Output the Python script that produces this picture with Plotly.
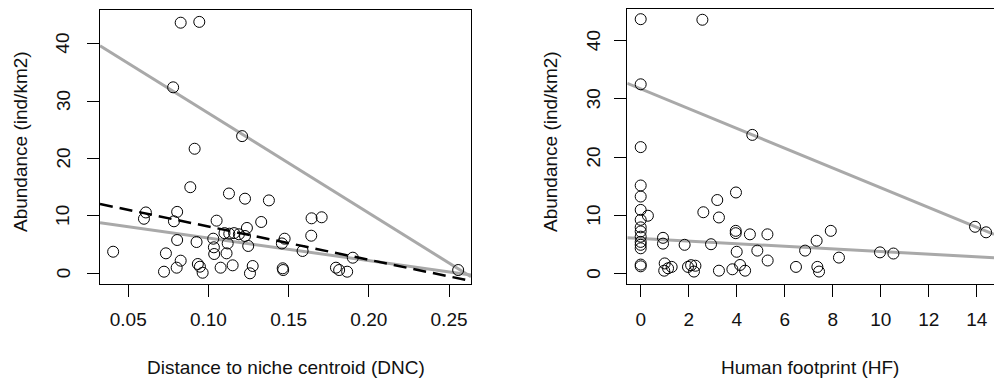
import plotly.graph_objects as go

# ---------------- data ----------------
dnc = [0.0827, 0.0943, 0.078, 0.121, 0.0914, 0.0887, 0.1128, 0.1228, 0.1377, 0.061,
       0.0598, 0.0805, 0.0785, 0.1051, 0.1329, 0.124, 0.1643, 0.1706, 0.1641, 0.1475,
       0.1458, 0.0406, 0.0805, 0.0926, 0.103, 0.1034, 0.1036, 0.110, 0.113, 0.116,
       0.119, 0.1113, 0.1248, 0.0735, 0.1587, 0.19, 0.0723, 0.0802, 0.0827, 0.0934,
       0.0947, 0.0964, 0.1076, 0.1151, 0.1259, 0.1276, 0.1463, 0.1466, 0.1795, 0.1815,
       0.1865, 0.2557, 0.112, 0.1228]
abund_dnc = [43.66, 43.8, 32.4, 23.9, 21.7, 15.0, 13.9, 13.0, 12.7, 10.6,
             9.5, 10.7, 9.06, 9.17, 8.94, 7.9, 9.58, 9.76, 6.55, 6.03,
             5.2, 3.76, 5.8, 5.45, 6.03, 4.53, 3.36, 7.0, 6.9, 7.0,
             6.8, 3.48, 4.76, 3.48, 3.89, 2.72, 0.28, 0.98, 2.2, 1.62,
             1.15, 0.1, 0.98, 1.39, 0.0, 1.27, 0.87, 0.57, 0.98, 0.57,
             0.28, 0.57, 5.2, 6.5]

hf = [0, 0, 0, 0, 0, 0, 0, 0, 0, 0, 0, 0, 0, 0, 0, 0.3,
      2.57, 4.65, 3.97, 3.19, 2.61, 3.26, 0.93, 0.93, 1.83, 2.93, 3.96, 3.96, 4.55, 5.28,
      4.0, 4.86, 5.29, 1.0, 1.14, 1.29, 0.98, 1.97, 2.1, 2.22, 2.28, 3.26, 3.82, 4.14,
      4.35, 6.47, 6.85, 7.33, 7.92, 7.36, 7.43, 8.26, 9.97, 10.53, 13.93, 14.39]
abund_hf = [43.7, 32.5, 21.7, 15.1, 13.2, 10.9, 9.2, 7.9, 7.2, 6.3, 5.4, 4.9, 4.3, 1.5, 1.2, 9.9,
            43.6, 23.8, 13.9, 12.6, 10.5, 9.6, 6.1, 5.1, 4.9, 5.0, 7.3, 6.9, 6.7, 6.7,
            3.7, 3.9, 2.2, 1.7, 0.86, 1.1, 0.45, 1.1, 1.4, 0.3, 1.3, 0.45, 0.69, 1.43,
            0.45, 1.1, 3.9, 5.6, 7.3, 1.1, 0.3, 2.7, 3.6, 3.4, 8.0, 7.05]

# fitted lines (end points at the plot edges)
dnc_line_x = [0.0324, 0.2637]
dnc_upper_y = [39.65, -0.59]
dnc_lower_y = [8.82, -0.3]
dnc_dash_y = [12.07, -1.34]

hf_line_x = [-0.558, 14.72]
hf_upper_y = [32.67, 6.7]
hf_lower_y = [6.12, 2.68]

dnc_ticks = [0.05, 0.10, 0.15, 0.20, 0.25]
hf_ticks = [0, 2, 4, 6, 8, 10, 12, 14]
y_ticks = [0, 10, 20, 30, 40]

# ---------------- figure ----------------
W, H = 994, 381
FONT = "Liberation Sans, Arial, sans-serif"
FS = 19
TXT = "#111"
GREY = "#a9a9a9"

fig = go.Figure()

marker = dict(symbol="circle-open", size=11, color="black", line=dict(width=1, color="black"))

# left panel
fig.add_trace(go.Scatter(x=dnc_line_x, y=dnc_upper_y, mode="lines",
                         line=dict(color=GREY, width=3), xaxis="x", yaxis="y"))
fig.add_trace(go.Scatter(x=dnc_line_x, y=dnc_lower_y, mode="lines",
                         line=dict(color=GREY, width=3), xaxis="x", yaxis="y"))
fig.add_trace(go.Scatter(x=dnc_line_x, y=dnc_dash_y, mode="lines",
                         line=dict(color="black", width=2.5, dash="13px,7px"), xaxis="x", yaxis="y"))
fig.add_trace(go.Scatter(x=dnc, y=abund_dnc, mode="markers", marker=marker, xaxis="x", yaxis="y"))

# right panel
fig.add_trace(go.Scatter(x=hf_line_x, y=hf_upper_y, mode="lines",
                         line=dict(color=GREY, width=3), xaxis="x2", yaxis="y2"))
fig.add_trace(go.Scatter(x=hf_line_x, y=hf_lower_y, mode="lines",
                         line=dict(color=GREY, width=3), xaxis="x2", yaxis="y2"))
fig.add_trace(go.Scatter(x=hf, y=abund_hf, mode="markers", marker=marker, xaxis="x2", yaxis="y2"))

def px_x(p):
    return p / W

def px_y(p):
    return 1 - p / H

axis_common = dict(showgrid=False, zeroline=False, showline=True, linecolor="black", linewidth=1,
                   ticks="outside", ticklen=12, tickwidth=1, tickcolor="black",
                   tickfont=dict(family=FONT, size=FS, color=TXT))

annotations = []
# rotated y tick labels (R style), placed on the y axes' own scale
for yref, xpix in (("y", 63), ("y2", 593.5)):
    for v in y_ticks:
        annotations.append(dict(text=str(v), x=px_x(xpix), y=v, xref="paper", yref=yref,
                                textangle=-90, showarrow=False, xanchor="center", yanchor="middle",
                                font=dict(family=FONT, size=FS, color=TXT)))

annotations += [
    dict(text="Abundance (ind/km2)", x=px_x(20), y=px_y(142), xref="paper", yref="paper",
         textangle=-90, showarrow=False, xanchor="center", yanchor="middle",
         font=dict(family=FONT, size=FS, color=TXT)),
    dict(text="Abundance (ind/km2)", x=px_x(550), y=px_y(142), xref="paper", yref="paper",
         textangle=-90, showarrow=False, xanchor="center", yanchor="middle",
         font=dict(family=FONT, size=FS, color=TXT)),
    dict(text="Distance to niche centroid (DNC)", x=px_x(285.5), y=px_y(367), xref="paper", yref="paper",
         showarrow=False, xanchor="center", yanchor="middle",
         font=dict(family=FONT, size=FS, color=TXT)),
    dict(text="Human footprint (HF)", x=px_x(810), y=px_y(367), xref="paper", yref="paper",
         showarrow=False, xanchor="center", yanchor="middle",
         font=dict(family=FONT, size=FS, color=TXT)),
]

fig.update_layout(
    width=W, height=H,
    margin=dict(l=0, r=0, t=0, b=0),
    paper_bgcolor="white", plot_bgcolor="white",
    showlegend=False,
    font=dict(family=FONT, size=FS, color=TXT),
    xaxis=dict(domain=[px_x(100), px_x(471)], range=[0.0324, 0.2637], anchor="y",
               tickvals=dnc_ticks, ticktext=[f"{v:.2f}" for v in dnc_ticks], mirror=True,
               ticklabelstandoff=6, **axis_common),
    yaxis=dict(domain=[px_y(284), px_y(10)], range=[-1.864, 45.87], anchor="x",
               tickvals=y_ticks, showticklabels=False, mirror=True, **axis_common),
    xaxis2=dict(domain=[px_x(627.3), 1.0], range=[-0.558, 14.72], anchor="y2",
                tickvals=hf_ticks, mirror=True, ticklabelstandoff=6, **axis_common),
    yaxis2=dict(domain=[px_y(284), px_y(9)], range=[-1.84, 45.45], anchor="x2",
                tickvals=y_ticks, showticklabels=False, mirror=False, **axis_common),
    annotations=annotations,
)

fig.write_html("out.html", config={"displayModeBar": False, "staticPlot": True},
               post_script="document.body.style.margin='0';document.body.style.overflow='hidden';")
